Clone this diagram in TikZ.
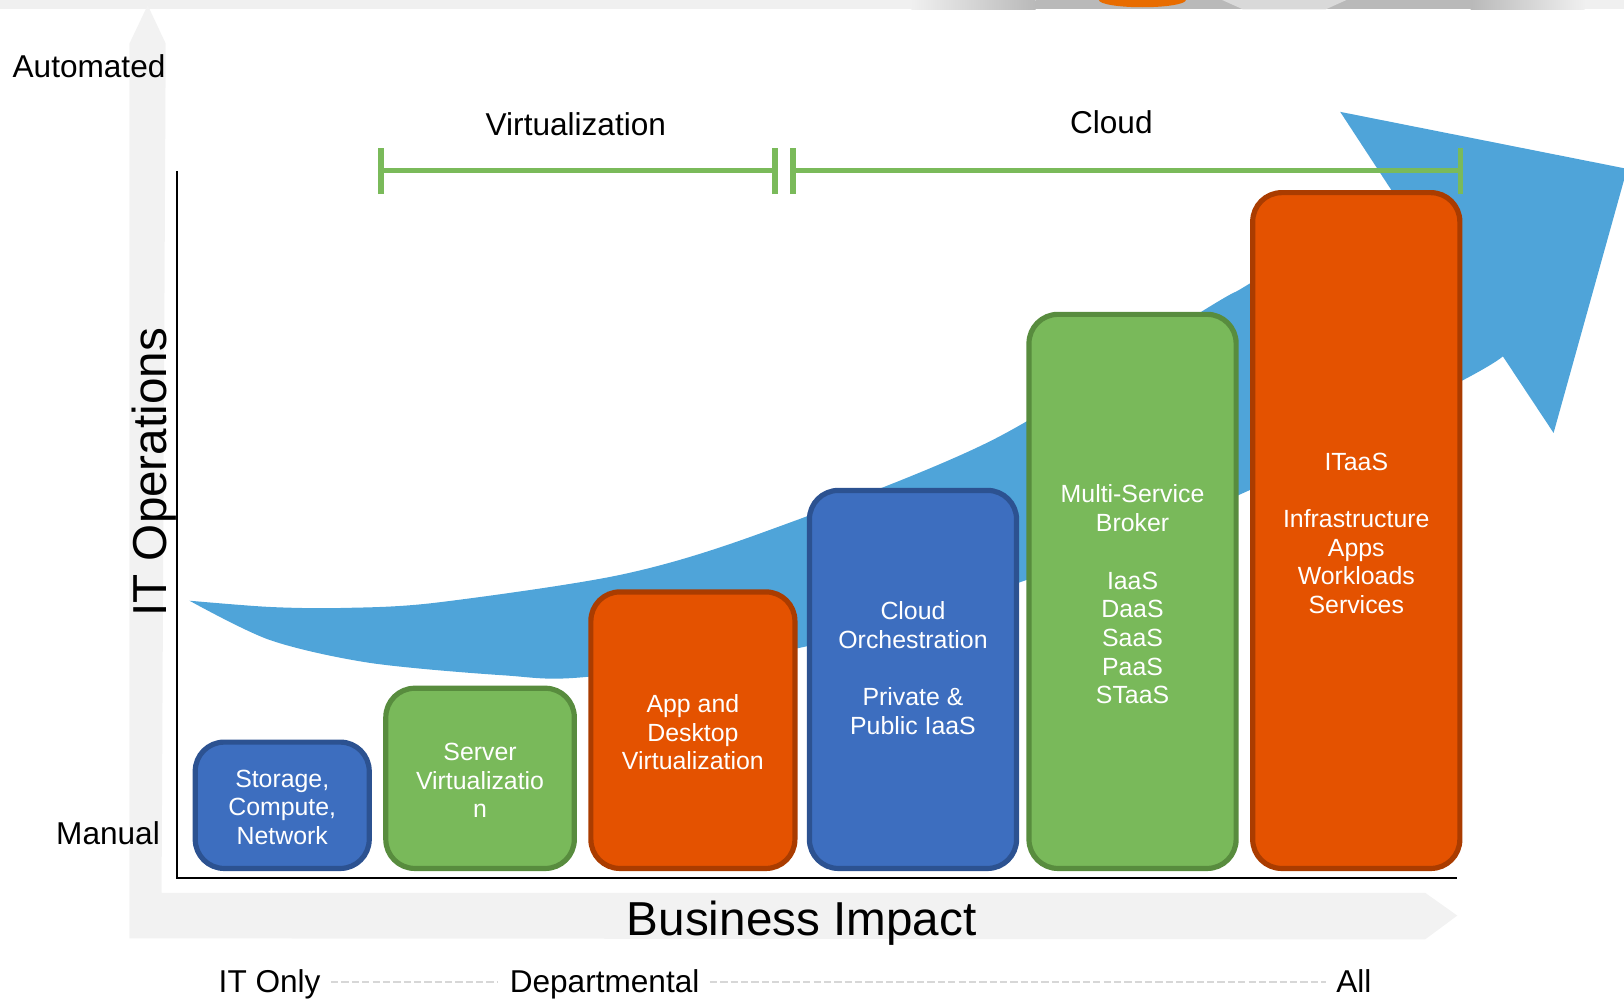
\documentclass[tikz,border=0pt]{standalone}
\usepackage{fontspec}
\setmainfont{Liberation Sans}
\definecolor{boxblue}{RGB}{61,110,191}
\definecolor{boxblueedge}{RGB}{44,82,145}
\definecolor{boxgreen}{RGB}{121,185,90}
\definecolor{boxgreenedge}{RGB}{88,140,62}
\definecolor{boxorange}{RGB}{228,82,0}
\definecolor{boxorangeedge}{RGB}{170,60,0}
\definecolor{arrowblue}{RGB}{79,164,217}
\definecolor{bracketgreen}{RGB}{122,186,90}
\definecolor{axisgray}{RGB}{242,242,242}
\definecolor{dashgray}{RGB}{215,215,215}
\begin{document}
\begin{tikzpicture}[x=1pt,y=-1pt,
  box/.style={rectangle, rounded corners=28, line width=5, inner sep=0},
  bluebox/.style={box, fill=boxblue, draw=boxblueedge},
  greenbox/.style={box, fill=boxgreen, draw=boxgreenedge},
  orangebox/.style={box, fill=boxorange, draw=boxorangeedge},
  boxtext/.style={text=white, align=center, inner sep=0, font=\fontsize{24}{27.7}\selectfont},
  smalllabel/.style={inner sep=0, font=\fontsize{30.5}{36}\selectfont},
  biglabel/.style={inner sep=0, font=\fontsize{46}{55}\selectfont},
  bracket/.style={draw=bracketgreen, line width=5.5},
  dashline/.style={draw=dashgray, line width=2, dash pattern=on 7 off 3},
  axisline/.style={draw=black, line width=2}]
\useasboundingbox (0,0) rectangle (1568,963.6);
% top band (cropped photo fragment)
\fill[gray!12] (0,0) rectangle (1568,9);
\shade[left color=gray!12, right color=gray!55] (880,0) rectangle (1000,9);
\fill[gray!55] (1000,0) rectangle (1420,9);
\shade[left color=gray!55, right color=gray!12] (1420,0) rectangle (1530,9);
\fill[gray!30] (1180,0) -- (1300,0) -- (1280,9) -- (1200,9) -- cycle;
\fill[boxorange!85!yellow] (1103,0) ellipse [x radius=42, y radius=7];
% light gray axis arrows
\fill[axisgray] (125,906) -- (125,42) -- (142.6,5) -- (160,42) -- (156,862)
  -- (1376,862) -- (1407,884) -- (1376,907) -- cycle;
% black axes
\coordinate (axtop) at (171,165);
\coordinate (axcorner) at (171,848);
\coordinate (axright) at (1407,848);
\draw[axisline] (axtop) -- (axcorner) -- (axright);
% blue curved arrow
\fill[arrowblue] plot[smooth] coordinates {(183,580) (260,586) (330,587) (420,582) (599,555) (734,515) (958,425) (1168,296) (1207,273.5) (1345,186)}
  -- (1294,108) -- (1571,163) -- (1500,418) -- (1451,344)
  -- plot[smooth] coordinates {(1451,344) (1412.7,367) (1207,473) (991,560) (779,624) (567,653.5) (486,652) (357,640) (260.7,618) (183,580)} -- cycle;
% boxes
\node[bluebox, minimum width=168, minimum height=122] (b1) at (272.5,777.5) {};
\node[greenbox, minimum width=182, minimum height=174] (b2) at (463.5,751.5) {};
\node[orangebox, minimum width=197, minimum height=267] (b3) at (669,705) {};
\node[bluebox, minimum width=200, minimum height=365] (b4) at (881.5,656) {};
\node[greenbox, minimum width=200, minimum height=535] (b5) at (1093.5,571) {};
\node[orangebox, minimum width=200, minimum height=652.5] (b6) at (1309.5,512.25) {};
\node[boxtext] (t1) at (272.5,779.5) {Storage,\\Compute,\\Network};
\node[boxtext] (t2) at (463.5,753.5) {Server\\Virtualizatio\\n};
\node[boxtext] (t3) at (669,707) {App and\\Desktop\\Virtualization};
\node[boxtext] (t4) at (881.5,645) {Cloud\\Orchestration\\[27.7pt]Private \&\\Public IaaS};
\node[boxtext] (t5) at (1093.5,574) {Multi-Service\\Broker\\[27.7pt]IaaS\\DaaS\\SaaS\\PaaS\\STaaS};
\node[boxtext] (t6) at (1309.5,515) {ITaaS\\[27.7pt]Infrastructure\\Apps\\Workloads\\Services};
% brackets
\coordinate (va) at (368,164.5);
\coordinate (vb) at (748,164.5);
\coordinate (ca) at (765.4,164.5);
\coordinate (cb) at (1410,164.5);
\draw[bracket] (va) -- (vb);
\draw[bracket] (ca) -- (cb);
\foreach \p in {va,vb,ca,cb}{
  \draw[bracket] ([yshift=-22.9]\p) -- ([yshift=21.5]\p);
}
% labels
\node[smalllabel, anchor=base] (virt) at (556,130.5) {Virtualization};
\node[smalllabel, anchor=base] (cloud) at (1073,129) {Cloud};
\node[smalllabel, anchor=base west] (auto) at (12,75) {Automated};
\node[smalllabel, anchor=base east] (manual) at (154.5,815.5) {Manual};
\node[biglabel, rotate=90, anchor=base] (itops) at (161,456) {IT Operations};
\node[biglabel, anchor=base] (bizimp) at (774,903.5) {Business Impact};
\node[smalllabel, anchor=base west] (itonly) at (211,958) {IT Only};
\node[smalllabel, anchor=base west] (dept) at (492,958) {Departmental};
\node[smalllabel, anchor=base west] (all) at (1290,958) {All};
\draw[dashline] ([shift={(10,-9.5)}]itonly.base east) -- ([shift={(-11,-9.5)}]dept.base west);
\draw[dashline] ([shift={(10,-9.5)}]dept.base east) -- ([shift={(-10,-9.5)}]all.base west);
\end{tikzpicture}
\end{document}
